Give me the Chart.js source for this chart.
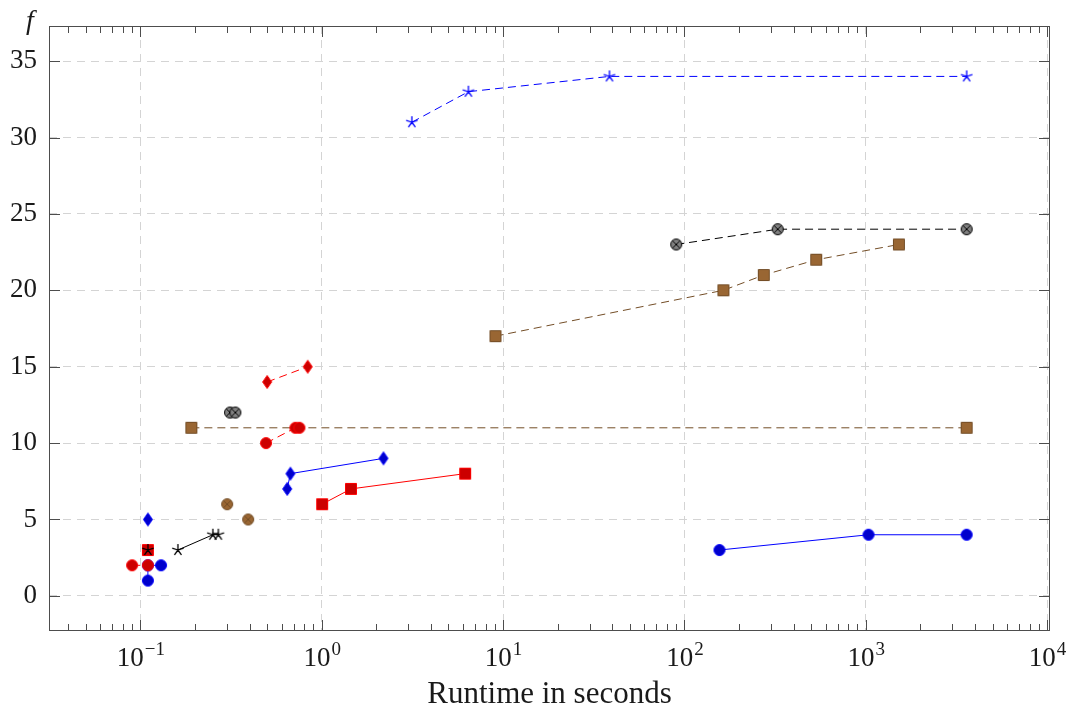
<!DOCTYPE html>
<html>
<head>
<meta charset="utf-8">
<script src="https://cdn.jsdelivr.net/npm/chart.js@4"></script>
<style>
  html, body { margin: 0; padding: 0; background: #fff; }
  #wrap { width: 1070px; height: 710px; }
</style>
</head>
<body>
<div id="wrap"><canvas id="chart" width="1070" height="710"></canvas></div>
<script>
/* data: runtime (s) and f */
const blueCircBigX = [156, 1036, 3600];
const blueCircBigY = [3, 4, 4];
const blueCircSmallX = [0.11, 0.11, 0.13];
const blueCircSmallY = [1, 2, 2];
const redSqX = [1.005, 1.45, 6.18];
const redSqY = [6, 7, 8];
const redSqSingleX = [0.11];
const redSqSingleY = [3];
const brownOtX = [0.301, 0.393];
const brownOtY = [6, 5];
const blackStarX = [0.161, 0.251, 0.269];
const blackStarY = [3, 4, 4];
const blackStarSingleX = [0.11];
const blackStarSingleY = [3];
const blueDiaX = [0.645, 0.672, 2.19];
const blueDiaY = [7, 8, 9];
const blueDiaSingleX = [0.11];
const blueDiaSingleY = [5];
const redCircX = [0.493, 0.716, 0.753];
const redCircY = [10, 11, 11];
const redCircSmallX = [0.09, 0.11];
const redCircSmallY = [2, 2];
const brownSqX = [9.08, 164, 274, 533, 1523];
const brownSqY = [17, 20, 21, 22, 23];
const brownSqLongX = [0.191, 3600];
const brownSqLongY = [11, 11];
const grayOtX = [90.1, 327, 3600];
const grayOtY = [23, 24, 24];
const grayOtSmallX = [0.312, 0.334];
const grayOtSmallY = [12, 12];
const blueStarX = [3.14, 6.44, 38.6, 3600];
const blueStarY = [31, 33, 34, 34];
const redDiaX = [0.5, 0.837];
const redDiaY = [14, 15];

const xTicks = [0.1, 1, 10, 100, 1000, 10000];
const xTickExp = ['\u22121', '0', '1', '2', '3', '4'];
const yTicks = [0, 5, 10, 15, 20, 25, 30, 35];

/* pgfplots-like colours */
const BLUE = '#0000ff', BLUE_F = '#0000cc';
const RED = '#ff0000', RED_F = '#cc0000';
const BROWN = '#734d26', BROWN_F = '#996633';
const BLACK = '#000000', GRAY_F = '#808080';
const SERIF = '"Liberation Serif", "DejaVu Serif", serif';

function makeMark(shape, fill, stroke) {
    const c = document.createElement('canvas');
    c.width = 16; c.height = 16;
    const g = c.getContext('2d');
    g.translate(8, 8);
    g.lineWidth = 1;
    g.strokeStyle = stroke;
    g.fillStyle = fill;
    g.beginPath();
    if (shape === 'circle' || shape === 'otimes') {
        g.arc(0, 0, 5.5, 0, 2 * Math.PI);
    } else if (shape === 'square') {
        g.rect(-5.5, -5.5, 11, 11);
    } else if (shape === 'diamond') {
        g.moveTo(0, -6.5); g.lineTo(4.5, 0); g.lineTo(0, 6.5); g.lineTo(-4.5, 0);
        g.closePath();
    }
    if (shape !== 'star') { g.fill(); g.stroke(); }
    if (shape === 'otimes') {
        const d = 3.9;
        g.beginPath();
        g.moveTo(-d, -d); g.lineTo(d, d);
        g.moveTo(-d, d); g.lineTo(d, -d);
        g.stroke();
    }
    if (shape === 'star') {
        g.lineWidth = 1.3;
        g.beginPath();
        for (let k = 0; k < 5; k++) {
            const a = -Math.PI / 2 + k * 2 * Math.PI / 5;
            g.moveTo(0, 0);
            g.lineTo(6 * Math.cos(a), 6 * Math.sin(a));
        }
        g.stroke();
    }
    return c;
}

function pts(xs, ys) {
    return xs.map((v, i) => ({x: v, y: ys[i]}));
}

const DENSE = [8, 5];
function series(xs, ys, color, mark, dash, line) {
    return {
        data: pts(xs, ys),
        borderColor: color,
        borderWidth: 1,
        borderDash: dash ? DENSE : [],
        showLine: line !== false,
        pointStyle: mark,
        pointRadius: 5,
        tension: 0,
        fill: false
    };
}

const mBlueCirc = makeMark('circle', BLUE_F, BLUE);
const mRedSq = makeMark('square', RED_F, RED);
const mBrownOt = makeMark('otimes', BROWN_F, BROWN);
const mBlackStar = makeMark('star', BLACK, BLACK);
const mBlueDia = makeMark('diamond', BLUE_F, BLUE);
const mRedCirc = makeMark('circle', RED_F, RED);
const mBrownSq = makeMark('square', BROWN_F, BROWN);
const mGrayOt = makeMark('otimes', GRAY_F, BLACK);
const mBlueStar = makeMark('star', BLUE, BLUE);
const mRedDia = makeMark('diamond', RED_F, RED);

/* first dataset ends up on top */
const datasets = [
    series(blackStarSingleX, blackStarSingleY, BLACK, mBlackStar, false, false),
    series(redSqSingleX, redSqSingleY, RED, mRedSq, false, false),
    series(blueDiaSingleX, blueDiaSingleY, BLUE, mBlueDia, false, false),
    series(redCircSmallX, redCircSmallY, RED, mRedCirc, true),
    series(blueCircSmallX, blueCircSmallY, BLUE, mBlueCirc, false),
    series(blueCircBigX, blueCircBigY, BLUE, mBlueCirc, false),
    series(redSqX, redSqY, RED, mRedSq, false),
    series(brownOtX, brownOtY, BROWN, mBrownOt, false, false),
    series(blackStarX, blackStarY, BLACK, mBlackStar, false),
    series(blueDiaX, blueDiaY, BLUE, mBlueDia, false),
    series(redCircX, redCircY, RED, mRedCirc, true),
    series(brownSqX, brownSqY, BROWN, mBrownSq, true),
    series(brownSqLongX, brownSqLongY, BROWN, mBrownSq, true),
    series(grayOtX, grayOtY, BLACK, mGrayOt, true),
    series(grayOtSmallX, grayOtSmallY, BLACK, mGrayOt, true),
    series(blueStarX, blueStarY, BLUE, mBlueStar, true),
    series(redDiaX, redDiaY, RED, mRedDia, true)
];

/* box, inward ticks, 10^k labels and the f label */
const axisDecor = {
    id: 'axisDecor',
    afterDraw(chart) {
        const {ctx, chartArea: a, scales: {x, y}} = chart;
        ctx.save();
        ctx.strokeStyle = '#4d4d4d';
        ctx.lineWidth = 1;
        ctx.beginPath();
        for (let e = -2; e <= 4; e++) {
            for (let m = 1; m <= 9; m++) {
                const v = m * Math.pow(10, e);
                if (v < x.min || v > x.max) continue;
                const px = Math.round(x.getPixelForValue(v)) + 0.5;
                const len = (m === 1) ? 11 : 7;
                ctx.moveTo(px, a.bottom); ctx.lineTo(px, a.bottom - len);
                ctx.moveTo(px, a.top); ctx.lineTo(px, a.top + len);
            }
        }
        for (const v of yTicks) {
            const py = Math.round(y.getPixelForValue(v)) + 0.5;
            ctx.moveTo(a.left, py); ctx.lineTo(a.left + 11, py);
            ctx.moveTo(a.right, py); ctx.lineTo(a.right - 11, py);
        }
        ctx.stroke();
        ctx.strokeRect(a.left + 0.5, a.top + 0.5, a.width - 1, a.height - 1);

        ctx.fillStyle = '#1a1a1a';
        ctx.textBaseline = 'alphabetic';
        ctx.textAlign = 'left';
        xTicks.forEach((v, i) => {
            const px = x.getPixelForValue(v);
            ctx.font = '27px ' + SERIF;
            const wb = ctx.measureText('10').width;
            ctx.font = '19px ' + SERIF;
            const we = ctx.measureText(xTickExp[i]).width;
            const x0 = px - (wb + we) / 2;
            ctx.font = '27px ' + SERIF;
            ctx.fillText('10', x0, a.bottom + 35);
            ctx.font = '19px ' + SERIF;
            ctx.fillText(xTickExp[i], x0 + wb + 1, a.bottom + 24);
        });
        ctx.font = 'italic 28px ' + SERIF;
        ctx.textAlign = 'center';
        ctx.fillText('f', 30, 29);
        ctx.restore();
    }
};

new Chart(document.getElementById('chart'), {
    type: 'line',
    data: {datasets: datasets},
    options: {
        responsive: false,
        animation: false,
        events: [],
        layout: {padding: {left: 0, right: 20, top: 26, bottom: 0}},
        plugins: {legend: {display: false}, tooltip: {enabled: false}},
        scales: {
            x: {
                type: 'logarithmic',
                min: Math.pow(10, -1.504),
                max: Math.pow(10, 4.016),
                afterBuildTicks: s => { s.ticks = xTicks.map(v => ({value: v})); },
                afterFit: s => { s.height = 79; },
                ticks: {display: false},
                grid: {color: '#d4d4d4', lineWidth: 1, drawTicks: false},
                border: {display: false, dash: [8, 6]},
                title: {
                    display: true,
                    text: 'Runtime in seconds',
                    color: '#1a1a1a',
                    font: {family: SERIF, size: 31, lineHeight: 1},
                    padding: {top: 0, bottom: 0}
                }
            },
            y: {
                type: 'linear',
                min: -2.3,
                max: 37.3,
                afterBuildTicks: s => { s.ticks = yTicks.map(v => ({value: v})); },
                afterFit: s => { s.width = 49; },
                ticks: {
                    color: '#1a1a1a',
                    padding: 12,
                    font: {family: SERIF, size: 27, lineHeight: 1}
                },
                grid: {color: '#d4d4d4', lineWidth: 1, drawTicks: false},
                border: {display: false, dash: [8, 6]}
            }
        }
    },
    plugins: [axisDecor]
});
</script>
</body>
</html>
